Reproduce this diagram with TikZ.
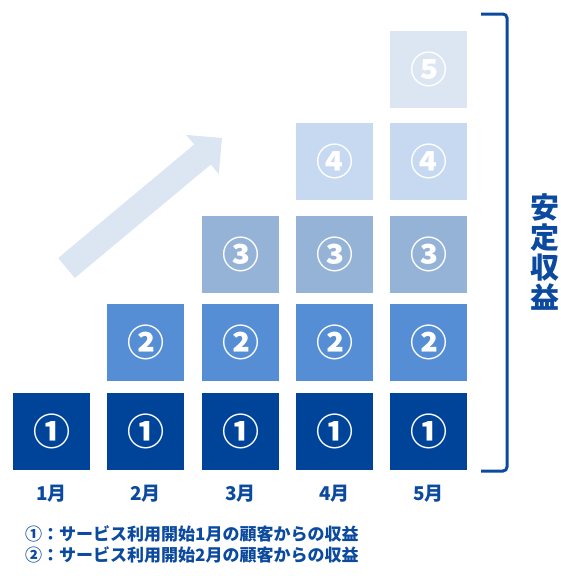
\documentclass[tikz,border=0pt]{standalone}
\usepackage{fontspec}
\setmainfont{Noto Sans CJK JP}
\definecolor{rA}{HTML}{00449A}
\definecolor{rB}{HTML}{558ED5}
\definecolor{rC}{HTML}{95B3D7}
\definecolor{rD}{HTML}{C6D9F1}
\definecolor{rE}{HTML}{DCE6F2}
\definecolor{txt}{HTML}{0B4A9E}
\tikzset{
  cell/.style={minimum width=77pt, minimum height=77pt, inner sep=0pt, text=white,
    font=\bfseries\fontsize{37pt}{37pt}\selectfont},
  month/.style={text=txt, font=\bfseries\fontsize{19pt}{19pt}\selectfont, inner sep=0pt},
  legend/.style={text=txt, anchor=west, inner sep=0pt, font=\bfseries\fontsize{17pt}{17pt}\selectfont},
}
\begin{document}
\begin{tikzpicture}[x=1pt,y=-1pt]
\useasboundingbox (0,0) rectangle (560,576);
% arrow
\fill[rE] (58.2,258) -- (194.2,144.5) -- (186.2,134.9) -- (222,138) -- (218.8,174.1) -- (210.8,164.5) -- (74.8,278) -- cycle;
% columns
\foreach \c/\x in {1/51.5,2/145.5,3/240.5,4/334.5,5/428.5}{
  \node[month] (m\c) at (\x,494) {\c 月};
}
\node[cell, fill=rA] (a1) at (51.5,431.5) {①};
\node[cell, fill=rA] (a2) at (145.5,431.5) {①};
\node[cell, fill=rA] (a3) at (240.5,431.5) {①};
\node[cell, fill=rA] (a4) at (334.5,431.5) {①};
\node[cell, fill=rA] (a5) at (428.5,431.5) {①};
\node[cell, fill=rB] (b2) at (145.5,342) {②};
\node[cell, fill=rB] (b3) at (240.5,342) {②};
\node[cell, fill=rB] (b4) at (334.5,342) {②};
\node[cell, fill=rB] (b5) at (428.5,342) {②};
\node[cell, fill=rC] (c3) at (240.5,254.5) {③};
\node[cell, fill=rC] (c4) at (334.5,254.5) {③};
\node[cell, fill=rC] (c5) at (428.5,254.5) {③};
\node[cell, fill=rD] (d4) at (334.5,161.5) {④};
\node[cell, fill=rD] (d5) at (428.5,161.5) {④};
\node[cell, fill=rE] (e5) at (428.5,69) {⑤};
% bracket
\coordinate (bt) at (481,14);
\coordinate (bb) at (481,471);
\draw[txt, line width=3pt, rounded corners=4pt] (bt) -- (507,14) -- (507,471) -- (bb);
\node[text=txt, align=center, inner sep=0pt, font=\bfseries\fontsize{29pt}{30pt}\selectfont] (lab) at (545,252) {安\\定\\収\\益};
% legend
\node[legend] (l1) at (25,534) {①：サービス利用開始1月の顧客からの収益};
\node[legend] (l2) at (25,555) {②：サービス利用開始2月の顧客からの収益};
\end{tikzpicture}
\end{document}
